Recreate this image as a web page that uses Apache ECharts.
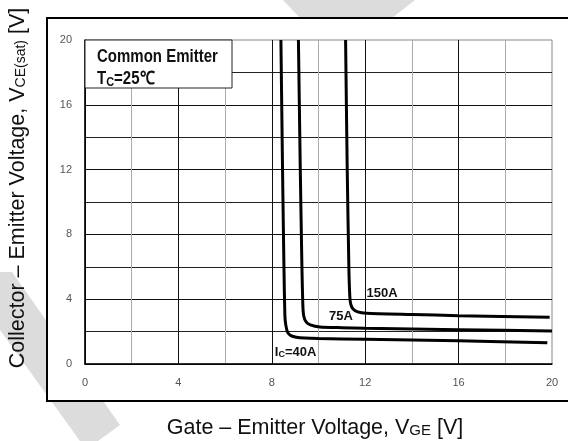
<!DOCTYPE html>
<html>
<head>
<meta charset="utf-8">
<style>
	html, body { margin: 0; padding: 0; background: #fff; }
	#main { width: 568px; height: 441px; }
</style>
<script src="https://cdn.jsdelivr.net/npm/echarts@6/dist/echarts.min.js"></script>
</head>
<body>
<div id="main"></div>
<script>
// curves: [Vge, Vce(sat)]
var ic40 = [[8.39, 20], [8.46, 12], [8.52, 6], [8.56, 3], [8.6, 2.4], [8.68, 1.95], [8.82, 1.75], [9.05, 1.65], [9.4, 1.6], [10, 1.57], [12, 1.53], [16, 1.44], [19.8, 1.31]];
var ic75 = [[9.14, 20], [9.22, 12], [9.29, 6], [9.33, 3.6], [9.37, 2.95], [9.47, 2.6], [9.65, 2.42], [10.06, 2.29], [11, 2.24], [12, 2.2], [16, 2.12], [20, 2.04]];
var ic150 = [[11.16, 20], [11.23, 12], [11.3, 6], [11.34, 4.2], [11.38, 3.7], [11.48, 3.4], [11.68, 3.22], [12.06, 3.14], [14, 3.06], [16, 2.98], [19.9, 2.88]];

var curveLabels = [
	{ name: '150A', coord: [12.72, 4.38] },
	{ name: '75A', coord: [10.96, 2.92] },
	{ name: 'I{s|C}=40A', coord: [9.02, 0.7] }
];

var xTicks = [0, 4, 8, 12, 16, 20];
var yTicks = [0, 4, 8, 12, 16, 20];

var myChart = echarts.init(document.getElementById('main'));

function curve(name, data, labels) {
	var s = {
		name: name,
		type: 'line',
		data: data,
		smooth: 0.2,
		showSymbol: false,
		symbol: 'none',
		lineStyle: { color: '#000', width: 3 },
		z: 5
	};
	if (labels) {
		s.markPoint = {
			symbol: 'circle',
			symbolSize: 0,
			silent: true,
			data: labels,
			label: {
				show: true,
				position: 'inside',
				formatter: function (p) { return p.name; },
				color: '#111',
				fontFamily: 'Liberation Sans, Arial, sans-serif',
				fontWeight: 'bold',
				fontSize: 13,
				rich: {
					s: { fontSize: 9, fontWeight: 'bold', color: '#111', padding: [4, 0, 0, 0] }
				}
			}
		};
	}
	return s;
}

var option = {
	animation: false,
	backgroundColor: '#fff',
	grid: {
		left: 85, top: 40, right: 16, bottom: 77,
		show: true,
		borderColor: '#888',
		borderWidth: 1,
		backgroundColor: 'transparent'
	},
	xAxis: {
		type: 'value',
		min: 0, max: 20, interval: 4,
		axisLine: { show: true, onZero: false, lineStyle: { color: '#000', width: 1.5 } },
		axisTick: { show: false },
		axisLabel: {
			color: '#555', fontSize: 11, margin: 13,
			fontFamily: 'Liberation Sans, Arial, sans-serif',
			formatter: function (v) { return xTicks.indexOf(v) >= 0 ? String(v) : ''; }
		},
		splitLine: { show: true, showMaxLine: false, lineStyle: { color: '#111', width: 1 } },
		minorTick: { show: false, splitNumber: 2 },
		minorSplitLine: { show: true, lineStyle: { color: '#aaa', width: 1 } }
	},
	yAxis: {
		type: 'value',
		min: 0, max: 20, interval: 4,
		axisLine: { show: true, onZero: false, lineStyle: { color: '#000', width: 1.5 } },
		axisTick: { show: false },
		axisLabel: {
			color: '#555', fontSize: 11, margin: 13,
			fontFamily: 'Liberation Sans, Arial, sans-serif',
			formatter: function (v) { return yTicks.indexOf(v) >= 0 ? String(v) : ''; }
		},
		splitLine: { show: true, showMaxLine: false, lineStyle: { color: '#111', width: 1 } },
		minorTick: { show: false, splitNumber: 2 },
		minorSplitLine: { show: true, lineStyle: { color: '#222', width: 1 } }
	},
	graphic: [
		// grey watermark stripes behind the frame
		{ type: 'polygon', z: -20, silent: true, shape: { points: [[0, 272], [12, 272], [120, 425], [98, 441], [80, 441], [0, 330]] }, style: { fill: '#dcdcdc' } },
		{ type: 'polygon', z: -20, silent: true, shape: { points: [[283, 0], [415, 0], [392, 18], [300, 18]] }, style: { fill: '#dcdcdc' } },
		// outer frame
		{ type: 'rect', z: -10, silent: true, shape: { x: 47, y: 18, width: 540, height: 383 }, style: { fill: '#fff', stroke: '#000', lineWidth: 2 } },
		// condition box
		{ type: 'rect', z: 10, silent: true, shape: { x: 85, y: 40, width: 147, height: 48 }, style: { fill: '#fff', stroke: '#222', lineWidth: 1 } },
		{
			type: 'text', z: 11, silent: true, x: 97, y: 46, scaleY: 1.2,
			style: {
				text: 'Common Emitter\nT{s|C}=25℃',
				fill: '#111',
				font: 'bold 15px "Liberation Sans", Arial, sans-serif',
				lineHeight: 18.5,
				verticalAlign: 'top',
				rich: {
					s: { fontSize: 11, fontWeight: 'bold', fill: '#111', padding: [5, 0, 0, 0] }
				}
			}
		},
		// axis titles
		{
			type: 'text', silent: true, x: 315, y: 428,
			style: {
				text: 'Gate – Emitter Voltage, V{s|GE} [V]',
				fill: '#111',
				font: '21.5px "Liberation Sans", Arial, sans-serif',
				align: 'center',
				verticalAlign: 'middle',
				rich: { s: { fontSize: 15, fill: '#111', padding: [6, 0, 0, 0] } }
			}
		},
		{
			type: 'text', silent: true, x: 18, y: 188, rotation: Math.PI / 2,
			style: {
				text: 'Collector – Emitter Voltage, V{s|CE(sat)} [V]',
				fill: '#111',
				font: '21.5px "Liberation Sans", Arial, sans-serif',
				align: 'center',
				verticalAlign: 'middle',
				rich: { s: { fontSize: 14, fill: '#111', padding: [6, 0, 0, 0] } }
			}
		}
	],
	series: [
		curve('Ic=40A', ic40, curveLabels),
		curve('Ic=75A', ic75),
		curve('Ic=150A', ic150)
	]
};

myChart.setOption(option);
</script>
</body>
</html>
